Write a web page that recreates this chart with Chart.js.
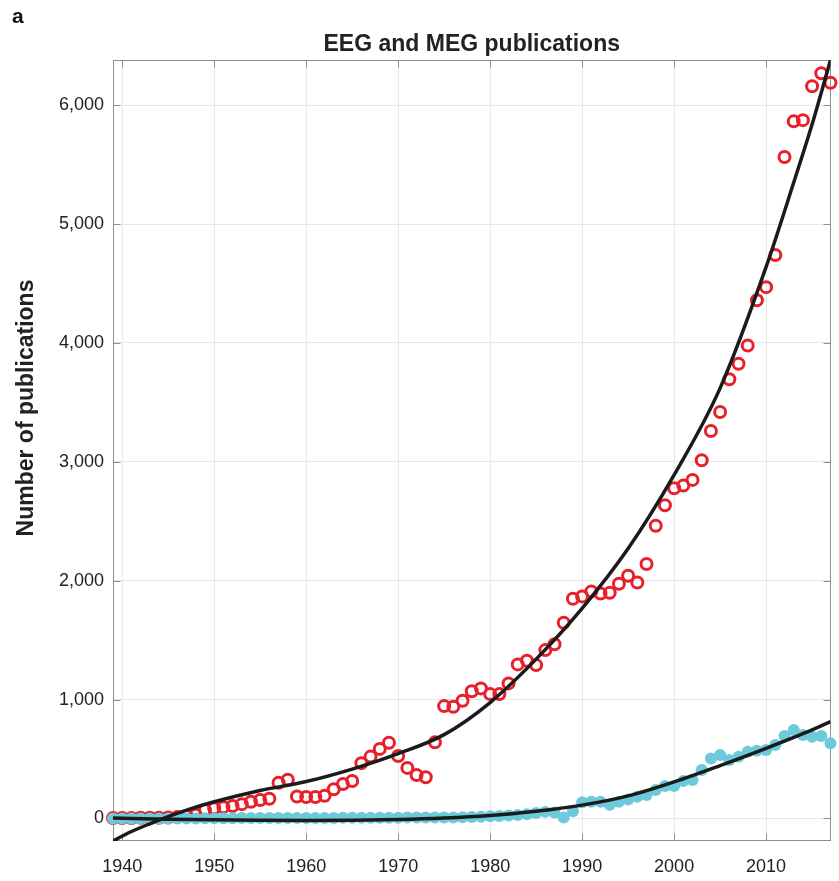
<!DOCTYPE html>
<html>
<head>
<meta charset="utf-8">
<title>EEG and MEG publications</title>
<script src="https://cdn.jsdelivr.net/npm/chart.js@4.4.0/dist/chart.umd.min.js"></script>
<style>
  html, body { margin: 0; padding: 0; background: #ffffff; }
  #wrap { width: 839px; height: 881px; }
</style>
</head>
<body>
<div id="wrap"><canvas id="pubChart" width="839" height="881"></canvas></div>
<script>
// Publication years
const years = [
  1939, 1940, 1941, 1942, 1943, 1944, 1945, 1946, 1947, 1948,
  1949, 1950, 1951, 1952, 1953, 1954, 1955, 1956, 1957, 1958,
  1959, 1960, 1961, 1962, 1963, 1964, 1965, 1966, 1967, 1968,
  1969, 1970, 1971, 1972, 1973, 1974, 1975, 1976, 1977, 1978,
  1979, 1980, 1981, 1982, 1983, 1984, 1985, 1986, 1987, 1988,
  1989, 1990, 1991, 1992, 1993, 1994, 1995, 1996, 1997, 1998,
  1999, 2000, 2001, 2002, 2003, 2004, 2005, 2006, 2007, 2008,
  2009, 2010, 2011, 2012, 2013, 2014, 2015, 2016, 2017
];

// EEG publications per year (red open circles)
const eegCounts = [
  3, 4, 4, 5, 5, 6, 8, 12, 20, 30,
  70, 85, 95, 105, 120, 140, 155, 165, 300, 325,
  185, 180, 180, 190, 245, 290, 315, 465, 520, 585,
  637, 525, 425, 365, 346, 640, 945, 940, 990, 1070,
  1094, 1046, 1046, 1136, 1296, 1326, 1290, 1416, 1465, 1646,
  1848, 1868, 1910, 1892, 1898, 1975, 2042, 1985, 2140, 2463,
  2635, 2778, 2800, 2848, 3013, 3260, 3420, 3695, 3825, 3978,
  4360, 4470, 4740, 5565, 5865, 5875, 6160, 6270, 6190
];

// MEG publications per year (cyan filled dots)
const megCounts = [
  0, 0, 0, 0, 0, 0, 0, 0, 0, 0,
  2, 2, 2, 2, 3, 3, 3, 3, 3, 3,
  4, 4, 4, 4, 4, 5, 5, 5, 5, 6,
  6, 6, 7, 7, 7, 8, 8, 8, 10, 12,
  15, 18, 20, 25, 28, 35, 45, 55, 50, 8,
  60, 135, 140, 140, 115, 140, 160, 183, 197, 239,
  273, 273, 315, 323, 407, 505, 533, 491, 519, 561,
  569, 575, 617, 693, 743, 701, 687, 693, 632
];

// Trend curves (black)
const eegTrendYears = [1939, 1941, 1943, 1945, 1947, 1950, 1955, 1960, 1965, 1970, 1975, 1980, 1985, 1990, 1995, 2000, 2005, 2010, 2013, 2015, 2017];
const eegTrendValues = [-190, -110, -45, 15, 70, 140, 235, 310, 415, 545, 705, 975, 1340, 1767, 2270, 2890, 3620, 4640, 5350, 5840, 6381];
const megTrendYears = [1939, 1945, 1950, 1955, 1960, 1965, 1970, 1975, 1980, 1985, 1990, 1995, 2000, 2005, 2010, 2015, 2017];
const megTrendValues = [3, -6, -12, -16, -18, -16, -10, 3, 25, 60, 112, 190, 308, 445, 590, 745, 815];

// Axis ticks and limits
const xTickYears = [1940, 1950, 1960, 1970, 1980, 1990, 2000, 2010];
const yTickValues = [0, 1000, 2000, 3000, 4000, 5000, 6000];
const xLimits = [1939, 2017];
const yLimits = [-190, 6381];

const pairs = (xs, ys) => xs.map((x, i) => ({ x: x, y: ys[i] }));

const FONT = '"Liberation Sans", Arial, Helvetica, sans-serif';
const INK = '#222222';

// Box around the axes with inward tick marks on all four sides
const axesFrame = {
  id: 'axesFrame',
  beforeDatasetsDraw(chart) {
    const { ctx, chartArea: a, scales } = chart;
    const L = Math.round(a.left) + 0.5;
    const R = Math.round(a.right) - 0.5;
    const T = Math.round(a.top) + 0.5;
    const B = Math.round(a.bottom) - 0.5;
    const len = 7;
    ctx.save();
    ctx.strokeStyle = '#8f8f8f';
    ctx.lineWidth = 1;
    ctx.strokeRect(L, T, R - L, B - T);
    ctx.beginPath();
    scales.x.ticks.forEach(t => {
      const px = Math.round(scales.x.getPixelForValue(t.value)) + 0.5;
      ctx.moveTo(px, B); ctx.lineTo(px, B - len);
      ctx.moveTo(px, T); ctx.lineTo(px, T + len);
    });
    scales.y.ticks.forEach(t => {
      const py = Math.round(scales.y.getPixelForValue(t.value)) + 0.5;
      ctx.moveTo(L, py); ctx.lineTo(L + len, py);
      ctx.moveTo(R, py); ctx.lineTo(R - len, py);
    });
    ctx.stroke();
    ctx.restore();
  }
};

// Panel letter, title and y-axis title
const headings = {
  id: 'headings',
  afterDraw(chart) {
    const { ctx, chartArea: a } = chart;
    ctx.save();
    ctx.fillStyle = '#111111';
    ctx.textBaseline = 'alphabetic';
    ctx.font = 'bold 21px ' + FONT;
    ctx.textAlign = 'left';
    ctx.fillText('a', 12, 23);

    ctx.font = 'bold 23px ' + FONT;
    ctx.textAlign = 'center';
    ctx.fillStyle = INK;
    ctx.fillText('EEG and MEG publications', (a.left + a.right) / 2, 51);

    ctx.translate(33, 408);
    ctx.rotate(-Math.PI / 2);
    ctx.fillText('Number of publications', 0, 0);
    ctx.restore();
  }
};

const ctx = document.getElementById('pubChart').getContext('2d');
new Chart(ctx, {
  type: 'scatter',
  data: {
    datasets: [
      {
        label: 'EEG trend',
        type: 'line',
        data: pairs(eegTrendYears, eegTrendValues),
        showLine: true,
        borderColor: '#1b1b1b',
        borderWidth: 3.5,
        pointRadius: 0,
        fill: false,
        cubicInterpolationMode: 'monotone',
        order: 0
      },
      {
        label: 'MEG trend',
        type: 'line',
        data: pairs(megTrendYears, megTrendValues),
        showLine: true,
        borderColor: '#1b1b1b',
        borderWidth: 3.5,
        pointRadius: 0,
        fill: false,
        cubicInterpolationMode: 'monotone',
        order: 0
      },
      {
        label: 'MEG',
        data: pairs(years, megCounts),
        pointRadius: 6,
        pointBorderWidth: 0,
        backgroundColor: '#6ccada',
        borderColor: '#6ccada',
        clip: false,
        order: 1
      },
      {
        label: 'EEG',
        data: pairs(years, eegCounts),
        pointRadius: 5.5,
        pointBorderWidth: 3,
        borderColor: '#e8202a',
        backgroundColor: 'rgba(0,0,0,0)',
        clip: false,
        order: 2
      }
    ]
  },
  options: {
    responsive: false,
    animation: false,
    devicePixelRatio: 1,
    layout: { padding: { top: 60, right: 2.5, left: 0, bottom: 0 } },
    plugins: {
      legend: { display: false },
      tooltip: { enabled: false },
      title: { display: false }
    },
    scales: {
      x: {
        type: 'linear',
        min: xLimits[0],
        max: xLimits[1],
        afterBuildTicks: s => { s.ticks = xTickYears.map(v => ({ value: v })); },
        afterFit: s => { s.height = 40; },
        grid: { color: '#e8e8e8', lineWidth: 1, drawTicks: false },
        border: { display: false },
        ticks: {
          padding: 15,
          autoSkip: false,
          maxRotation: 0,
          color: INK,
          font: { family: FONT, size: 18 },
          callback: v => String(v)
        }
      },
      y: {
        type: 'linear',
        min: yLimits[0],
        max: yLimits[1],
        afterBuildTicks: s => { s.ticks = yTickValues.map(v => ({ value: v })); },
        afterFit: s => { s.width = 113; },
        grid: { color: '#e8e8e8', lineWidth: 1, drawTicks: false },
        border: { display: false },
        ticks: {
          padding: 9,
          color: INK,
          font: { family: FONT, size: 18 },
          callback: v => v.toLocaleString('en-US')
        }
      }
    }
  },
  plugins: [axesFrame, headings]
});
</script>
</body>
</html>
